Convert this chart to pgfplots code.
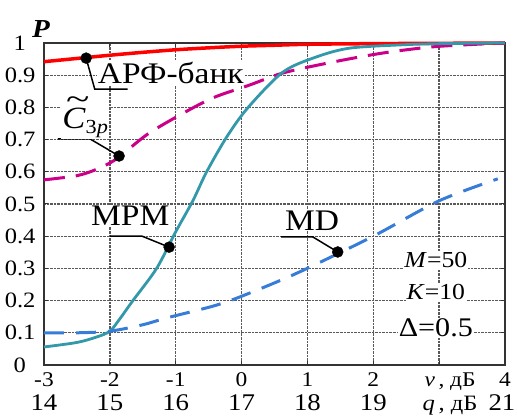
\documentclass[border=0pt]{standalone}
\usepackage{pgfplots}
\pgfplotsset{compat=1.18}
\usepackage{graphicx}
\usepackage{fontspec}
\setmainfont{Liberation Serif}[FakeStretch=1.12]
\definecolor{arf}{RGB}{255,0,0}
\definecolor{cz}{RGB}{204,0,136}
\definecolor{mpm}{RGB}{50,152,170}
\definecolor{md}{RGB}{55,125,215}
\newcommand{\xl}[2]{#1\\[3bp]{\fontsize{24}{24}\selectfont #2}}
\begin{document}
\begin{tikzpicture}
\begin{axis}[
  at={(0,0)}, anchor=south west, name=ax,
  scale only axis, width=461bp, height=322bp,
  xmin=-3, xmax=4, ymin=0, ymax=1,
  clip=false,
  xtick={-3,-2,-1,0,1,2,3,4},
  xticklabels={\xl{-3}{14},\xl{-2}{15},\xl{-1}{16},\xl{0}{17},\xl{1}{18},\xl{2}{19},{\hspace*{22bp}\textit{v}\,, дБ\\[3bp]\hspace*{22bp}{\fontsize{22}{22}\selectfont\textit{q}\,, дБ}},\xl{4}{\hspace*{-6bp}21}},
  ytick={0,0.1,0.2,0.3,0.4,0.5,0.6,0.7,0.8,0.9,1},
  yticklabels={0,0.1,0.2,0.3,0.4,0.5,0.6,0.7,0.8,0.9,1},
  xticklabel style={align=center, font=\fontsize{21}{21}\selectfont, yshift=-4bp},
  yticklabel style={font=\fontsize{22}{22}\selectfont, anchor=east, inner sep=0pt, text width=30bp, align=center, xshift=-9bp},
  grid=major,
  major grid style={black!65, densely dotted, line width=1.3bp},
  axis line style={black!80, line width=1.2bp},
  major tick length=4bp, tick align=inside,
  tick style={black!80, line width=1bp},
]
% АРФ-банк
\addplot[arf, line width=3.5bp, smooth] coordinates {
(-3,0.942)(-2.5,0.952)(-2,0.962)(-1.5,0.971)(-1,0.979)(-0.5,0.985)(0,0.99)(0.5,0.993)(1,0.996)(2,0.998)(3,0.999)(4,1.0)};
% C3p
\addplot[cz, line width=3bp, dash pattern=on 21bp off 11bp, smooth] coordinates {
(-3,0.575)(-2.5,0.588)(-2.2,0.608)(-1.9,0.64)(-1.44,0.715)(-0.94,0.776)(-0.43,0.83)(0.13,0.87)(0.63,0.907)(1.39,0.941)(2.15,0.969)(2.9,0.988)(3.66,0.997)(4,1.0)};
% MPM
\addplot[mpm, line width=2.8bp, smooth] coordinates {
(-3,0.056)(-2.5,0.07)(-2.2,0.087)(-2,0.105)(-1.85,0.143)(-1.65,0.2)(-1.29,0.30)(-1.01,0.41)(-0.74,0.51)(-0.53,0.60)(-0.22,0.71)(0.1,0.80)(0.63,0.91)(1.14,0.957)(1.64,0.984)(2.4,0.994)(3,0.998)(4,1.0)};
% MD
\addplot[md, line width=3bp, dash pattern=on 20bp off 12bp, smooth] coordinates {
(-3,0.10)(-2.5,0.10)(-2,0.105)(-1.5,0.125)(-1.14,0.146)(-0.38,0.186)(0.13,0.224)(0.88,0.289)(2.0,0.40)(3.0,0.51)(3.89,0.578)};
% leader lines
\addplot[black, line width=1.5bp] coordinates {(-2.36,0.953)(-2.23,0.857)(-1.73,0.857)};
\addplot[black, line width=1.5bp] coordinates {(-2.79,0.702)(-2.30,0.702)(-1.86,0.649)};
\addplot[black, line width=1.5bp] coordinates {(-2.0,0.40)(-1.51,0.40)(-1.10,0.366)};
\addplot[black, line width=1.5bp] coordinates {(0.60,0.398)(1.08,0.398)(1.46,0.351)};
% dots
\addplot[only marks, mark=*, mark size=5.5bp, black] coordinates {(-2.36,0.953)(-1.86,0.649)(-1.10,0.366)(1.46,0.351)};
% texts
\node[anchor=base west, fill=white, inner sep=1bp, font=\fontsize{30}{30}\selectfont] at (axis cs:-2.20,0.873) {АРФ-банк};
\node[anchor=base west, fill=white, inner sep=1bp, font=\fontsize{31}{31}\selectfont] at (axis cs:-2.74,0.735) {\rlap{\hspace{0.12em}\raisebox{0.62em}{\scalebox{1.25}[1]{\textasciitilde}}}\textit{C}{\fontsize{20}{20}\selectfont\raisebox{-5bp}{3\textit{p}}}};
\node[anchor=base, fill=white, inner sep=1bp, font=\fontsize{30}{30}\selectfont] at (axis cs:-1.69,0.432) {MPM};
\node[anchor=base, fill=white, inner sep=1bp, font=\fontsize{30}{30}\selectfont] at (axis cs:1.07,0.419) {MD};
\node[fill=white, inner sep=1bp, font=\fontsize{23}{23}\selectfont] at (axis cs:2.95,0.326) {\textit{M}=50};
\node[fill=white, inner sep=1bp, font=\fontsize{23}{23}\selectfont] at (axis cs:2.95,0.227) {\textit{K}=10};
\node[fill=white, inner sep=1bp, font=\fontsize{27}{27}\selectfont] at (axis cs:2.95,0.115) {Δ=0.5};
\node[font=\fontsize{26}{26}\selectfont\bfseries\itshape] at ([shift={(-3bp,14bp)}]rel axis cs:0,1) {P};
\end{axis}
\pgfresetboundingbox
\path[use as bounding box] (-44bp,-54bp) rectangle (473bp,365bp);
\end{tikzpicture}
\end{document}
